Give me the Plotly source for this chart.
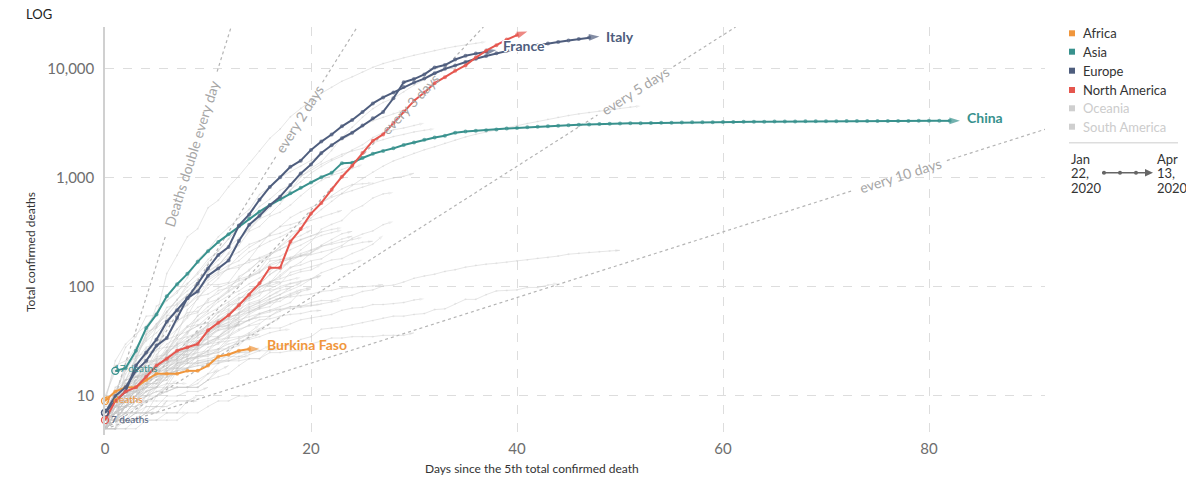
import math
import plotly.graph_objects as go

# ---------------------------------------------------------------------------
# Highlighted countries: total confirmed deaths, one value per day,
# counted from the day of the 5th confirmed death.
# ---------------------------------------------------------------------------
italy = [7, 10, 12, 17, 21, 29, 34, 52, 79, 107, 148, 197, 233, 366, 463, 631,
         827, 1016, 1266, 1441, 1809, 2158, 2503, 2978, 3405, 4032, 4825, 5476,
         6077, 6820, 7503, 8165, 9134, 10023, 10779, 11591, 12428, 13155, 13915,
         14681, 15362, 15887, 16523, 17127, 17669, 18279, 18849, 19468, 19899]
france = [7, 9, 11, 19, 25, 33, 48, 61, 79, 91, 127, 148, 175, 264, 372, 450,
          562, 674, 860, 1100, 1331, 1696, 1995, 2314, 2606, 3024, 3523, 4032,
          5387, 7560, 8078, 8911, 10328, 10869, 12210, 13197, 13832, 14393, 14967]
united_states = [6, 9, 11, 12, 15, 19, 22, 26, 28, 30, 40, 47, 55, 68, 85, 108,
                 150, 150, 260, 340, 471, 590, 780, 1027, 1295, 1695, 2191, 2509,
                 3170, 4076, 5101, 6095, 7403, 8407, 9619, 10783, 12722, 14695,
                 16478, 18586, 20463, 22020]
china = [17, 18, 26, 42, 56, 82, 106, 132, 170, 213, 259, 304, 361, 425, 491,
         564, 637, 723, 812, 909, 1017, 1114, 1368, 1381, 1524, 1666, 1772, 1870,
         2006, 2121, 2239, 2348, 2445, 2595, 2666, 2718, 2747, 2791, 2838, 2873,
         2915, 2946, 2984, 3015, 3045, 3073, 3100, 3123, 3140, 3162, 3173, 3180,
         3194, 3204, 3218, 3231, 3242, 3250, 3253, 3261, 3267, 3276, 3283, 3287,
         3293, 3298, 3301, 3306, 3311, 3314, 3321, 3327, 3331, 3335, 3335, 3337,
         3339, 3340, 3341, 3342, 3343, 3343, 3343]
china_first_day = 1
burkina_faso = [9, 11, 12, 12, 14, 16, 16, 16, 17, 17, 19, 23, 24, 26, 27, 27]

# ---------------------------------------------------------------------------
# Other countries (drawn in light grey)
# ---------------------------------------------------------------------------
spain = [10, 17, 28, 35, 54, 55, 133, 195, 289, 342, 533, 623, 830, 1043, 1375,
         1772, 2311, 2808, 3647, 4365, 5138, 5982, 6803, 7716, 8464, 9387, 10348,
         11198, 11947, 12641, 13341, 14045, 14792, 15447, 16081, 16606, 17209, 17756]
united_kingdom = [6, 8, 8, 10, 21, 21, 55, 55, 71, 104, 144, 177, 233, 281, 335,
                  422, 465, 578, 759, 1019, 1228, 1408, 1789, 2352, 2921, 3605,
                  4313, 4934, 5373, 6159, 7097, 7978, 8958, 9875, 10612]
germany = [7, 9, 11, 17, 24, 28, 44, 67, 84, 94, 123, 157, 206, 267, 342, 433,
           533, 645, 775, 920, 1107, 1275, 1444, 1584, 1810, 2016, 2349, 2607,
           2767, 2872, 3022, 3194]
iran = [5, 8, 12, 15, 16, 19, 26, 34, 43, 54, 66, 77, 92, 107, 124, 145, 194, 237,
        291, 354, 429, 514, 611, 724, 853, 988, 1135, 1284, 1433, 1556, 1685,
        1812, 1934, 2077, 2234, 2378, 2517, 2640, 2757, 2898, 3036, 3160, 3294,
        3452, 3603, 3739, 3872, 3993, 4110, 4232, 4357, 4474, 4585]
belgium = [5, 10, 14, 21, 37, 67, 75, 88, 122, 178, 220, 289, 353, 431, 513, 705,
           828, 1011, 1143, 1283, 1447, 1632, 2035, 2240, 2523, 3019, 3346, 3600,
           3903, 4157]
netherlands = [5, 10, 12, 20, 24, 43, 58, 76, 106, 136, 179, 213, 276, 356, 434,
               546, 639, 771, 864, 1039, 1173, 1339, 1487, 1651, 1766, 1867, 2101,
               2248, 2396, 2511, 2643, 2737, 2823]
switzerland = [7, 11, 13, 14, 17, 27, 28, 41, 54, 80, 98, 120, 153, 192, 231, 264,
               300, 359, 433, 488, 536, 591, 666, 715, 765, 821, 895, 948, 1002,
               1036, 1106]
turkey = [9, 21, 30, 37, 44, 59, 75, 92, 108, 131, 168, 214, 277, 356, 425, 501,
          574, 649, 725, 812, 908, 1006, 1101, 1198, 1296]
brazil = [7, 11, 18, 25, 34, 46, 59, 77, 92, 111, 136, 159, 201, 240, 324, 359,
          445, 486, 564, 686, 819, 950, 1057, 1124, 1223, 1328]
sweden = [7, 10, 11, 16, 20, 21, 25, 36, 62, 77, 105, 105, 110, 146, 180, 239,
          308, 358, 373, 401, 477, 591, 687, 793, 870, 887, 899]
canada = [5, 8, 9, 12, 12, 19, 21, 25, 26, 30, 38, 54, 61, 64, 80, 101, 109, 139,
          179, 218, 259, 339, 375, 407, 503, 557, 654, 714, 735]
portugal = [6, 12, 14, 23, 33, 43, 60, 76, 100, 119, 140, 160, 187, 209, 246, 266,
            295, 311, 345, 380, 409, 435, 470, 504]
austria = [6, 8, 16, 21, 28, 30, 49, 58, 68, 86, 108, 128, 146, 158, 168, 186,
           204, 220, 243, 273, 295, 319, 337, 350]
indonesia = [5, 5, 19, 25, 32, 38, 48, 49, 55, 58, 78, 87, 102, 114, 122, 136, 157,
             170, 181, 191, 198, 209, 221, 240, 280, 306, 327, 373, 399]
ireland = [9, 19, 21, 22, 36, 46, 54, 71, 85, 98, 120, 137, 158, 174, 210, 235,
           263, 287, 320, 334, 365]
india = [7, 10, 10, 13, 16, 19, 20, 25, 27, 32, 38, 50, 56, 72, 75, 83, 111, 124,
         149, 169, 206, 242, 273, 308, 324]
ecuador = [5, 7, 14, 18, 27, 28, 34, 48, 58, 60, 75, 93, 98, 120, 145, 172, 180,
           191, 220, 242, 272, 297, 315, 333]
romania = [7, 11, 17, 24, 37, 44, 65, 69, 85, 94, 115, 133, 146, 151, 176, 182,
           197, 220, 252, 270, 291, 316]
philippines = [5, 8, 12, 14, 17, 19, 25, 33, 35, 38, 45, 54, 68, 71, 78, 88, 96,
               107, 136, 144, 152, 163, 177, 182, 203, 221, 247, 297]
denmark = [6, 9, 13, 13, 24, 32, 34, 41, 52, 65, 72, 77, 90, 104, 123, 139, 161,
           179, 187, 203, 218, 237, 247, 260, 273, 285]
algeria = [7, 9, 11, 15, 17, 19, 21, 25, 26, 29, 31, 35, 44, 58, 86, 105, 130,
           152, 173, 193, 205, 235, 256, 275, 293]
mexico = [5, 6, 8, 12, 16, 20, 28, 29, 37, 50, 60, 79, 94, 125, 141, 174, 194,
          233, 273, 296, 332]
peru = [5, 7, 9, 11, 16, 18, 24, 30, 38, 55, 61, 73, 83, 92, 107, 121, 138, 169,
        181, 193, 216, 230]
poland = [5, 7, 8, 10, 14, 16, 18, 22, 31, 32, 33, 43, 57, 71, 79, 94, 107, 129,
          152, 159, 174, 181, 208, 232, 245, 257, 263]
egypt = [6, 7, 9, 14, 19, 20, 21, 24, 30, 36, 40, 46, 52, 58, 66, 71, 78, 85, 94,
         103, 118, 135, 146, 159, 164, 178]
south_korea = [6, 8, 11, 12, 13, 13, 16, 17, 28, 28, 35, 35, 42, 44, 50, 53, 54,
               60, 66, 66, 72, 75, 75, 81, 84, 91, 94, 102, 104, 111, 120, 126,
               131, 139, 144, 152, 158, 162, 165, 169, 174, 177, 183, 186, 192,
               200, 204, 208, 211, 214, 217]
japan = [5, 6, 6, 7, 7, 10, 12, 12, 12, 12, 14, 15, 16, 19, 22, 22, 27, 29, 29,
         33, 35, 41, 42, 43, 45, 47, 49, 52, 54, 54, 56, 57, 62, 63, 70, 77, 77,
         85, 92, 93, 94, 99, 99, 104, 108]
norway = [7, 7, 10, 14, 14, 19, 23, 25, 32, 39, 44, 50, 59, 62, 71, 76, 89, 101,
          108, 113, 119, 128]
czechia = [6, 9, 9, 11, 16, 23, 24, 31, 39, 44, 53, 59, 67, 78, 88, 99, 112, 119,
           129, 138, 143, 161]
iraq = [6, 7, 7, 9, 10, 11, 12, 17, 20, 23, 23, 27, 27, 29, 36, 40, 42, 42, 46,
        50, 52, 54, 56, 61, 64, 65, 69, 69, 70, 72, 76, 78]
greece = [6, 9, 13, 15, 20, 22, 26, 28, 32, 38, 43, 49, 50, 53, 63, 68, 73, 79,
          81, 83, 86, 91, 93, 98, 99, 101, 102, 105]
dominican_republic = [6, 10, 20, 28, 39, 42, 51, 60, 68, 82, 86, 98, 108, 118,
                      126, 135, 173, 177, 183, 196, 200]
pakistan = [6, 7, 8, 9, 11, 12, 18, 21, 26, 27, 31, 35, 41, 45, 50, 57, 61, 66,
            72, 91, 96]
argentina = [6, 8, 9, 12, 17, 19, 23, 27, 28, 36, 39, 43, 44, 48, 56, 63, 72, 79,
             83, 90]
colombia = [6, 6, 10, 12, 16, 17, 19, 25, 32, 35, 46, 50, 54, 69, 80, 100, 109, 112]
malaysia = [8, 10, 14, 15, 16, 19, 20, 23, 26, 27, 37, 43, 45, 50, 53, 57, 61, 62,
            63, 65, 67, 70, 73, 76]
morocco = [5, 10, 11, 23, 25, 26, 33, 36, 39, 44, 47, 59, 70, 80, 81, 90, 93, 97,
           107, 111, 118, 126]
panama = [6, 8, 9, 14, 16, 17, 24, 30, 32, 37, 41, 46, 54, 55, 59, 63, 66, 79, 87, 95]
luxembourg = [8, 8, 8, 9, 15, 18, 21, 22, 23, 29, 30, 31, 36, 41, 44, 46, 54, 62,
              66, 67, 69, 69]
serbia = [5, 7, 9, 10, 16, 17, 23, 24, 28, 31, 39, 44, 51, 58, 61, 65, 71, 74, 85,
          94, 99]
australia = [6, 7, 7, 8, 10, 13, 14, 18, 21, 23, 28, 30, 35, 40, 45, 50, 51, 54,
             56, 57, 60, 61]
chile = [5, 6, 8, 9, 12, 16, 18, 22, 27, 34, 37, 43, 48, 57, 65, 73, 82, 92]
finland = [7, 9, 11, 13, 17, 17, 19, 20, 25, 28, 34, 40, 42, 48, 49, 56, 59, 64]
israel = [5, 8, 12, 15, 16, 20, 26, 36, 44, 49, 57, 65, 73, 86, 95, 101, 103, 110,
          116, 123]
hungary = [6, 9, 10, 10, 13, 15, 16, 20, 21, 26, 32, 34, 38, 47, 58, 66, 77, 85,
           99, 109]
slovenia = [5, 9, 11, 11, 15, 17, 20, 22, 28, 30, 36, 40, 43, 45, 50, 53]
bosnia = [5, 6, 10, 13, 13, 17, 18, 21, 23, 29, 30, 33, 34, 35, 36, 37]
bangladesh = [5, 6, 6, 8, 9, 12, 17, 20, 21, 27, 30, 34, 39, 46]
ukraine = [5, 7, 9, 10, 13, 17, 20, 22, 27, 32, 37, 45, 52, 57, 69, 73, 83, 93, 98]
russia = [9, 9, 9, 13, 17, 24, 30, 34, 43, 45, 47, 58, 63, 76, 94, 106, 130, 148, 170]
san_marino = [5, 7, 11, 11, 12, 14, 14, 20, 20, 20, 21, 21, 21, 21, 22, 22, 25, 25,
              26, 26, 30, 32, 34, 34, 35, 35, 35, 36, 36, 36, 38]
andorra = [6, 7, 8, 12, 14, 15, 16, 17, 18, 21, 22, 23, 24, 25, 26, 26, 29]
croatia = [6, 7, 8, 10, 12, 12, 15, 16, 18, 19, 19, 20, 21, 23, 25]
bulgaria = [7, 8, 8, 10, 10, 14, 17, 20, 22, 23, 24, 25, 28, 31]
albania = [6, 8, 10, 11, 15, 15, 16, 17, 20, 20, 21, 22, 23, 23, 23]
north_macedonia = [6, 7, 9, 11, 12, 17, 17, 18, 22, 23, 26, 31, 32, 34, 38, 45]
moldova = [6, 7, 8, 12, 15, 17, 19, 22, 27, 29, 35, 41, 45, 52]
lithuania = [7, 8, 9, 11, 13, 15, 17, 19, 22, 23, 24, 26, 32]
estonia = [5, 11, 12, 13, 15, 19, 21, 24, 24]
iceland = [6, 6, 7, 7, 7, 8, 8]
honduras = [7, 10, 14, 15, 18, 22, 22, 23, 24, 25, 26, 35, 41, 46]
guatemala = [5, 5, 5, 6, 7, 7, 7, 7, 7]
costa_rica = [6, 6, 6, 6, 7, 7, 9]
cuba = [6, 6, 8, 9, 11, 12, 15, 16, 18, 21, 21, 24]
bolivia = [7, 9, 10, 10, 11, 14, 15, 20, 24, 27]
uruguay = [6, 7, 7, 7, 7, 7]
venezuela = [5, 7, 7, 7, 9, 9, 9, 9, 9, 9]
thailand = [5, 6, 7, 9, 12, 12, 15, 19, 20, 23, 26, 27, 30, 32, 33, 35, 38, 40, 41]
singapore = [5, 6, 6, 6, 6, 6, 6, 6, 7, 7, 8, 9, 9, 10, 10]
saudi_arabia = [5, 6, 8, 10, 16, 21, 25, 29, 34, 38, 41, 44, 47, 52, 59, 65, 73, 79]
uae = [5, 6, 8, 8, 9, 10, 11, 12, 12, 14, 16, 20, 25, 33, 37, 41, 46, 52]
lebanon = [6, 8, 10, 11, 12, 14, 16, 17, 18, 19, 20, 21, 21, 22, 24, 26, 26, 27]
afghanistan = [7, 11, 14, 15, 15, 18, 21, 21, 23, 25]
azerbaijan = [5, 5, 7, 7, 8, 8, 10, 10, 11, 11, 12]
ghana = [5, 6, 6, 6, 8, 8, 8, 9, 9, 9]
nigeria = [5, 6, 6, 7, 10, 10, 11, 12, 12, 13, 16, 17]
kenya = [6, 6, 7, 9, 10, 12, 12, 14]
cameroon = [6, 7, 8, 9, 9, 10, 12, 12, 12, 12, 14, 17, 19]
niger = [5, 7, 8, 8, 10, 11, 11, 12, 12, 12, 14, 18]
dr_congo = [6, 8, 9, 9, 13, 13, 18, 18, 18, 20, 20, 20, 22, 25, 25, 28]
mali = [5, 6, 7, 9, 9, 10, 13, 13, 13]
cote_divoire = [5, 6, 6, 7, 7, 8]
south_africa = [5, 5, 9, 9, 11, 12, 13, 18, 18, 24, 25, 27, 34, 48]
tunisia = [6, 7, 8, 10, 12, 14, 18, 18, 22, 22, 24, 25, 28, 31, 34, 37]
sudan = [5, 5, 5, 5, 6, 6, 7, 7, 9, 10]
senegal = [5, 5, 6, 6, 7, 7]

background_series = [
    spain, united_kingdom, germany, iran, belgium, netherlands, switzerland,
    turkey, brazil, sweden, canada, portugal, austria, indonesia, ireland, india,
    ecuador, romania, philippines, denmark, algeria, mexico, peru, poland, egypt,
    south_korea, japan, norway, czechia, iraq, greece, dominican_republic,
    pakistan, argentina, colombia, malaysia, morocco, panama, luxembourg, serbia,
    australia, chile, finland, israel, hungary, slovenia, bosnia, bangladesh,
    ukraine, russia, san_marino, andorra, croatia, bulgaria, albania,
    north_macedonia, moldova, lithuania, estonia, iceland, honduras, guatemala,
    costa_rica, cuba, bolivia, uruguay, venezuela, thailand, singapore,
    saudi_arabia, uae, lebanon, afghanistan, azerbaijan, ghana, nigeria, kenya,
    cameroon, niger, dr_congo, mali, cote_divoire, south_africa, tunisia, sudan,
    senegal,
]

# Doubling-time guide lines, all starting from 5 deaths on day 0
doubling_days = [1, 2, 3, 5, 10]
doubling_labels = ["Deaths double every day", "every 2 days", "every 3 days",
                   "every 5 days", "every 10 days"]
doubling_label_day = [8.4, 18.9, 29.7, 51.5, 77.2]
doubling_label_px = [165, 80, 82, 84, 92]

# Legend
legend_names = ["Africa", "Asia", "Europe", "North America", "Oceania", "South America"]
AFRICA = "#F0963C"
ASIA = "#38918D"
EUROPE = "#4E5D7D"
NORTH_AMERICA = "#E5564E"
GREY_KEY = "#cfcfcf"
legend_colors = [AFRICA, ASIA, EUROPE, NORTH_AMERICA, GREY_KEY, GREY_KEY]
legend_text_colors = ["#333333"] * 4 + ["#cccccc"] * 2

x_ticks = [0, 20, 40, 60, 80]
y_ticks = [10, 100, 1000, 10000]
y_tick_text = ["10", "100", "1,000", "10,000"]

# ---------------------------------------------------------------------------
# Geometry
# ---------------------------------------------------------------------------
W, H = 1186, 481
PLOT_L, PLOT_T, PLOT_W, PLOT_H = 105, 27, 940, 408
X_MAX = 91.26
Y_LOG_MIN, Y_LOG_MAX = 0.642, 4.385
PX_PER_DAY = PLOT_W / X_MAX
PX_PER_DECADE = PLOT_H / (Y_LOG_MAX - Y_LOG_MIN)
FONT = "Lato"
GREY_LINE = "rgba(200,200,200,0.45)"
WHITE_HALO = ("white 1px 0 0, white -1px 0 0, white 0 1px 0, white 0 -1px 0, "
              "white 2px 0 0, white -2px 0 0, white 1px 1px 0, white -1px -1px 0")


def px_x(px):
    return (px - PLOT_L) / PLOT_W


def px_y(py):
    return (PLOT_T + PLOT_H - py) / PLOT_H


def series_trace(values, first_day, color, width, dot, arrow):
    n = len(values)
    days = list(range(first_day, first_day + n))
    return go.Scatter(
        x=days, y=values, mode="lines+markers",
        line=dict(color=color, width=width),
        marker=dict(color=color, size=[dot] * (n - 1) + [arrow],
                    symbol=["circle"] * (n - 1) + ["arrow"],
                    angleref="previous", line=dict(width=0)),
        hoverinfo="skip", showlegend=False, cliponaxis=False,
    )


def paper_text(px, py, text, size, color, xanchor="left", angle=0):
    return dict(x=px_x(px), y=px_y(py), xref="paper", yref="paper", text=text,
                xanchor=xanchor, yanchor="middle", showarrow=False,
                textangle=angle, font=dict(family=FONT, size=size, color=color))


fig = go.Figure()
annotations = []

# Doubling guide lines, with a gap where the label sits
for T, text, cday, length in zip(doubling_days, doubling_labels,
                                 doubling_label_day, doubling_label_px):
    end_day = min(X_MAX, T * math.log2(10 ** Y_LOG_MAX / 5))
    slope = math.log10(2) / T * PX_PER_DECADE / PX_PER_DAY
    ang = math.atan(slope)
    half = (length / 2 + 3) * math.cos(ang) / PX_PER_DAY
    xs = [0, cday - half, None, cday + half, end_day]
    ys = [None if d is None else 5 * 2 ** (d / T) for d in xs]
    fig.add_trace(go.Scatter(x=xs, y=ys, mode="lines",
                             line=dict(color="#b4b4b4", width=1.2, dash="dot"),
                             hoverinfo="skip", showlegend=False))
    annotations.append(dict(
        x=cday, y=math.log10(5 * 2 ** (cday / T)), xref="x", yref="y",
        xanchor="center", yanchor="middle",
        text=text, showarrow=False, textangle=-math.degrees(ang),
        font=dict(family=FONT, size=14, color="#a6a6a6"),
    ))

# Grey background countries
for values in background_series:
    fig.add_trace(series_trace(values, 0, GREY_LINE, 1, 2, 5))

# Highlighted countries
highlighted = [
    (burkina_faso, 0, AFRICA),
    (china, china_first_day, ASIA),
    (france, 0, EUROPE),
    (italy, 0, EUROPE),
    (united_states, 0, NORTH_AMERICA),
]
for values, first_day, color in highlighted:
    fig.add_trace(series_trace(values, first_day, color, 2, 4, 11))
for values, first_day, color in highlighted:
    fig.add_trace(go.Scatter(
        x=[first_day], y=[values[0]], mode="markers",
        marker=dict(symbol="circle-open", size=7, color=color, line=dict(width=1.3)),
        hoverinfo="skip", showlegend=False, cliponaxis=False))

# End labels (France sits over the Italy line, so it gets a white halo)
end_labels = [
    ("Italy", italy, 0, EUROPE, 0, False),
    ("France", france, 0, EUROPE, 4, True),
    ("China", china, china_first_day, ASIA, 3, False),
    ("Burkina Faso", burkina_faso, 0, AFRICA, 4, False),
]
for text, values, first_day, color, yshift, halo in end_labels:
    font = dict(family=FONT, size=14, color=color)
    if halo:
        font["shadow"] = WHITE_HALO
    annotations.append(dict(
        x=first_day + len(values) - 1, y=math.log10(values[-1]),
        xref="x", yref="y", text="<b>%s</b>" % text, showarrow=False,
        xanchor="left", yanchor="middle", xshift=5, yshift=yshift, font=font,
    ))

# Start labels
start_labels = [
    ("%d deaths" % china[0], china_first_day, china[0], ASIA, -3, 3),
    ("%d deaths" % burkina_faso[0], 0, burkina_faso[0], AFRICA, -2, 2),
    ("%d deaths" % italy[0], 0, italy[0], EUROPE, 4, -6),
]
for text, day, value, color, xs, ys in start_labels:
    annotations.append(dict(
        x=day, y=math.log10(value), xref="x", yref="y", text=text,
        showarrow=False, xanchor="left", yanchor="middle", xshift=xs, yshift=ys,
        font=dict(family=FONT, size=10, color=color),
    ))

# Axis titles and scale label
annotations.append(paper_text(532, 469, "Days since the 5th total confirmed death",
                              12, "#333333", xanchor="center"))
annotations.append(paper_text(30, 252, "Total confirmed deaths", 12, "#333333",
                              xanchor="center", angle=-90))
annotations.append(paper_text(24, 14, "LOG", 13, "#222222"))

# Legend
shapes = []
row_y = [33.3, 51.7, 70.7, 90.0, 108.3, 126.7]
for name, color, tcolor, ry in zip(legend_names, legend_colors, legend_text_colors, row_y):
    shapes.append(dict(type="rect", xref="paper", yref="paper",
                       x0=px_x(1069), x1=px_x(1075), y0=px_y(ry + 3), y1=px_y(ry - 3),
                       fillcolor=color, line=dict(width=0)))
    annotations.append(paper_text(1081, ry, name, 13, tcolor))
shapes.append(dict(type="line", xref="paper", yref="paper",
                   x0=px_x(1069), x1=px_x(1178), y0=px_y(142.7), y1=px_y(142.7),
                   line=dict(color="#dddddd", width=1.5)))

# Time range key
for lines, left in ((["Jan", "22,", "2020"], 1069), (["Apr", "13,", "2020"], 1155)):
    for i, t in enumerate(lines):
        annotations.append(paper_text(left, 158.5 + 14.5 * i, t, 13, "#333333"))
shapes.append(dict(type="line", xref="paper", yref="paper",
                   x0=px_x(1102), x1=px_x(1147), y0=px_y(172.7), y1=px_y(172.7),
                   line=dict(color="#666666", width=1.5)))
for cx in (1104, 1120, 1136):
    shapes.append(dict(type="circle", xref="paper", yref="paper",
                       x0=px_x(cx - 2), x1=px_x(cx + 2), y0=px_y(174.7), y1=px_y(170.7),
                       fillcolor="#666666", line=dict(width=0)))
shapes.append(dict(type="path", xref="paper", yref="paper",
                   path="M %f,%f L %f,%f L %f,%f Z" % (
                       px_x(1145), px_y(169), px_x(1153), px_y(172.7),
                       px_x(1145), px_y(176.4)),
                   fillcolor="#666666", line=dict(width=0)))

fig.update_layout(
    width=W, height=H,
    margin=dict(l=PLOT_L, r=W - PLOT_L - PLOT_W, t=PLOT_T, b=H - PLOT_T - PLOT_H),
    paper_bgcolor="white", plot_bgcolor="white",
    font=dict(family=FONT, color="#333333"),
    showlegend=False,
    annotations=annotations,
    shapes=shapes,
    xaxis=dict(range=[0, X_MAX], tickvals=x_ticks, showgrid=True,
               gridcolor="#dddddd", griddash="dash", gridwidth=1,
               zeroline=False, showline=False, ticks="",
               ticklabelstandoff=3,
               tickfont=dict(family=FONT, size=15, color="#6e6e6e"),
               automargin=False),
    yaxis=dict(type="log", range=[Y_LOG_MIN, Y_LOG_MAX], tickvals=y_ticks,
               ticktext=y_tick_text, showgrid=True, gridcolor="#dddddd",
               griddash="dash", gridwidth=1, zeroline=False, showline=True,
               linecolor="#d0d0d0", linewidth=1.5, ticks="",
               ticklabelstandoff=6,
               tickfont=dict(family=FONT, size=15, color="#6e6e6e"),
               automargin=False),
)

fig.write_html("out.html")
